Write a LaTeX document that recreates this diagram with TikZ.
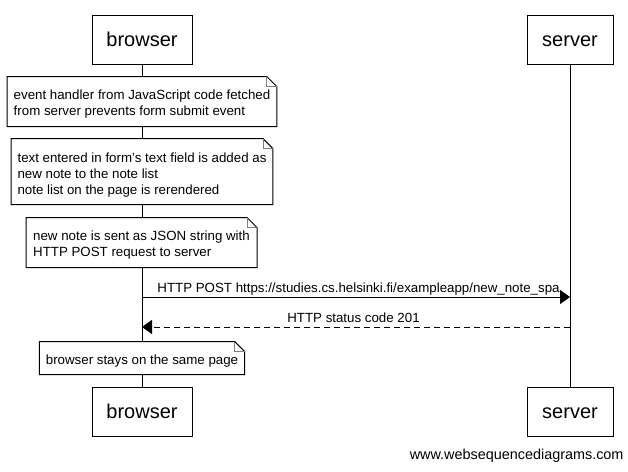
\documentclass[tikz,border=0pt]{standalone}
\usepackage{fontspec}
\setmainfont{Liberation Sans}
\usetikzlibrary{arrows.meta}
\newcommand{\topstrut}{\rule{0pt}{15.5pt}}
\begin{document}
\begin{tikzpicture}[x=1pt,y=-1pt,
  every node/.style={line width=1pt},
  part/.style={draw, fill=white, line width=1pt, minimum height=49pt, inner sep=0pt,
    text height=14.5pt, text depth=0pt,
    font=\fontsize{20}{24}\selectfont},
  notebox/.style={fill=white, inner xsep=6pt, inner ysep=0pt, align=left,
    font=\fontsize{13.3}{16}\selectfont},
  life/.style={line width=1pt},
  msg/.style={line width=1pt, -{Triangle[length=10pt,width=14pt]}},
  reply/.style={msg, dash pattern=on 6pt off 4pt},
  lbl/.style={font=\fontsize{13.3}{16}\selectfont, inner sep=1pt, text height=10pt, text depth=3pt}
]
\useasboundingbox (0,0) rectangle (628,471);
\fill[white] (0,0) rectangle (628,471);

% participants
\node[part, minimum width=100pt] (bt) at (142,39.5) {browser};
\node[part, minimum width=86pt] (st) at (570,39.5) {server};
\node[part, minimum width=100pt] (bb) at (142,411.5) {browser};
\node[part, minimum width=86pt] (sb) at (570,411.5) {server};

% lifelines
\draw[life] (bt.south) -- (bb.north);
\draw[life] (st.south) -- (sb.north);

% notes
\node[notebox, minimum width=264pt, minimum height=49pt] (n1) at (142,101.5)
  {\topstrut event handler from JavaScript code fetched\\from server prevents form submit event};
\node[notebox, minimum width=260pt, minimum height=65pt] (n2) at (142,171.5)
  {\rule{0pt}{17pt}text entered in form's text field is added as\\new note to the note list\\note list on the page is rerendered};
\node[notebox, minimum width=230pt, minimum height=49pt] (n3) at (141.5,242.5)
  {\topstrut new note is sent as JSON string with\\HTTP POST request to server};
\node[notebox, minimum width=202pt, minimum height=32pt] (n4) at (142,358)
  {\topstrut browser stays on the same page};

\foreach \n in {n1,n2,n3,n4}{
  \draw[line width=1pt] (\n.north west) -- ([xshift=-10pt]\n.north east)
    -- ([yshift=-10pt]\n.north east) -- (\n.south east) -- (\n.south west) -- cycle;
  \draw[line width=0.8pt, gray] ([xshift=-10pt]\n.north east)
    -- ([xshift=-10pt,yshift=-10pt]\n.north east) -- ([yshift=-10pt]\n.north east);
}

% messages
\coordinate (m1a) at (bt.south |- 0,297);
\coordinate (m1b) at (st.south |- 0,297);
\coordinate (m2a) at (st.south |- 0,327);
\coordinate (m2b) at (bt.south |- 0,327);
\draw[msg] (m1a) -- node[lbl, above, xshift=2.5pt] {HTTP POST https://studies.cs.helsinki.fi/exampleapp/new\_note\_spa} (m1b);
\draw[reply] (m2a) -- node[lbl, above, xshift=-2.5pt] {HTTP status code 201} (m2b);

% watermark
\node[anchor=east, inner sep=0pt, font=\fontsize{14.4}{17}\selectfont] (wm) at (624,456) {www.websequencediagrams.com};
\end{tikzpicture}
\end{document}
